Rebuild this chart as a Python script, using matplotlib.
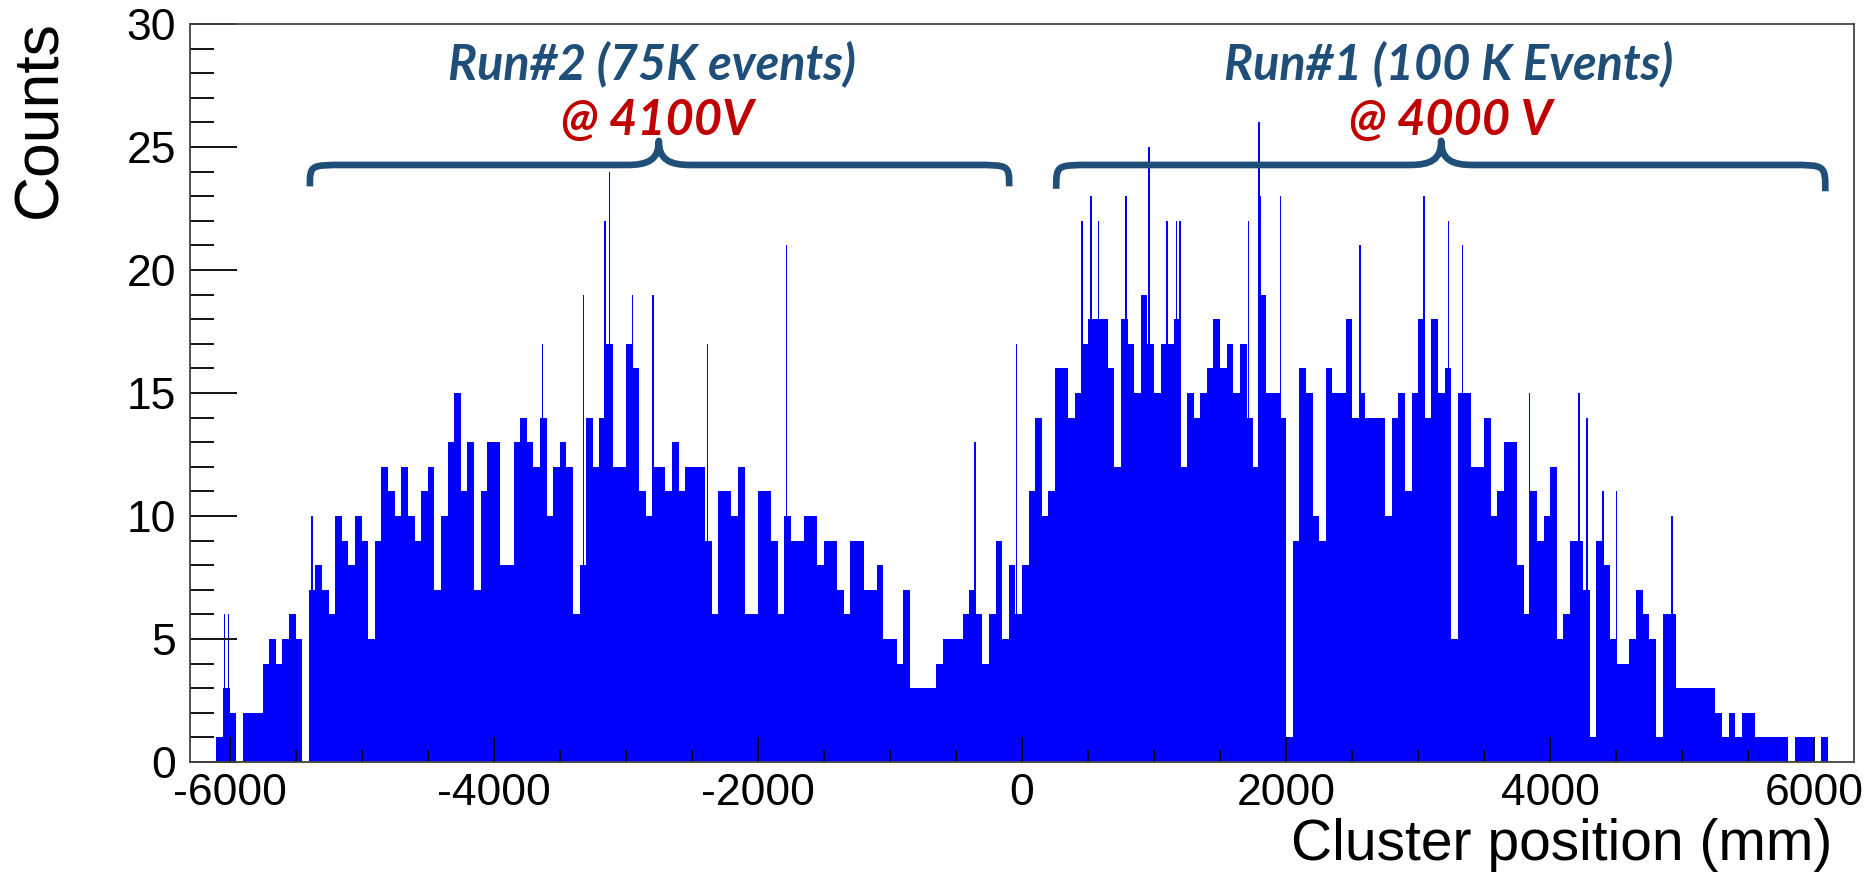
import numpy as np
import matplotlib
matplotlib.use("Agg")
import matplotlib.pyplot as plt
from matplotlib.path import Path
from matplotlib.patches import PathPatch

# ---------------- data ----------------
bin_width = 50
bin_start = -6300
counts = [
    0, 0, 0, 0,                                   # -6300 .. -6100
    1, 3, 2, 0, 2, 2, 2, 4, 5, 4,                 # -6100 .. -5650
    5, 6, 5, 0, 7, 8, 7, 6, 10, 9,                # -5600 .. -5150
    8, 10, 9, 5, 9, 12, 11, 10, 12, 10,           # -5100 .. -4650
    9, 11, 12, 7, 10, 13, 15, 11, 13, 7,          # -4600 .. -4150
    11, 13, 13, 8, 8, 13, 14, 13, 12, 14,         # -4100 .. -3650
    10, 12, 13, 12, 6, 8, 14, 12, 14, 17,         # -3600 .. -3150
    12, 12, 17, 16, 11, 10, 12, 12, 11, 13,       # -3100 .. -2650
    11, 12, 12, 12, 9, 6, 11, 11, 10, 12,         # -2600 .. -2150
    6, 6, 11, 11, 9, 6, 10, 9, 9, 10,             # -2100 .. -1650
    10, 8, 9, 9, 7, 6, 9, 9, 7, 7,                # -1600 .. -1150
    8, 5, 5, 4, 7, 3, 3, 3, 3, 4,                 # -1100 .. -650
    5, 5, 5, 6, 7, 6, 4, 6, 9, 5,                 # -600 .. -150
    8, 6,                                         # -100 .. -50
    8, 11, 14, 10, 11, 16, 16, 14, 15, 17,        # 0 .. 450
    18, 18, 18, 16, 12, 18, 17, 15, 19, 17,       # 500 .. 950
    15, 17, 17, 18, 12, 15, 14, 15, 16, 18,       # 1000 .. 1450
    16, 17, 15, 17, 14, 12, 19, 15, 15, 14,       # 1500 .. 1950
    1, 9, 16, 15, 10, 9, 16, 15, 15, 18,          # 2000 .. 2450
    14, 15, 14, 14, 14, 10, 14, 15, 11, 15,       # 2500 .. 2950
    18, 14, 18, 15, 16, 5, 15, 15, 12, 12,        # 3000 .. 3450
    14, 10, 11, 13, 13, 8, 6, 11, 9, 10,          # 3500 .. 3950
    12, 5, 6, 9, 9, 7, 1, 9, 8, 5,                # 4000 .. 4450
    4, 4, 5, 7, 6, 5, 1, 6, 6, 3,                 # 4500 .. 4950
    3, 3, 3, 3, 3, 2, 1, 2, 1, 2,                 # 5000 .. 5450
    2, 1, 1, 1, 1, 1, 0, 1, 1, 1,                 # 5500 .. 5950
    0, 1, 0, 0, 0, 0,                             # 6000 .. 6250
]
edges = [bin_start + i * bin_width for i in range(len(counts) + 1)]

# single-bin peaks that rise above the 50 mm envelope (position mm, counts)
peak_pos = [-6040, -6010, -5374, -3630, -3319, -3156, -3123, -2950, -2796,
            -2382, -1784, -358, -43, 453, 521, 580, 786, 962, 1100, 1170,
            1196, 1714, 1795, 1802, 1958, 2560, 3044, 3230, 3334, 3844,
            4216, 4277, 4400, 4503, 4921]
peak_cnt = [6, 6, 10, 17, 19, 22, 24, 19, 19,
            17, 21, 13, 17, 22, 23, 22, 23, 25, 22, 22,
            22, 22, 26, 23, 23, 21, 23, 22, 21, 15,
            15, 14, 11, 11, 10]
peak_width = 12

run_labels = ["Run#2 (75K events)", "Run#1 (100 K Events)"]
hv_labels = ["@ 4100V", "@ 4000 V"]

# ---------------- figure ----------------
W, H, DPI = 1876, 882, 100
fig = plt.figure(figsize=(W / DPI, H / DPI), dpi=DPI)
ax = fig.add_axes([190 / W, 1 - 762 / H, (1854 - 190) / W, (762 - 24) / H])

blue = "#0000ff"
ax.stairs(counts, edges, fill=True, color=blue, linewidth=0)
ax.bar(peak_pos, peak_cnt, width=peak_width, color=blue, linewidth=0)

ax.set_xlim(-6300, 6300)
ax.set_ylim(0, 30)

# ROOT-like ticks
xt = [-6000, -4000, -2000, 0, 2000, 4000, 6000]
yt = [0, 5, 10, 15, 20, 25, 30]
ax.set_xticks(xt)
ax.set_xticks(np.arange(-6000, 6001, 500), minor=True)
ax.set_yticks(yt)
ax.set_yticks(np.arange(0, 31, 1), minor=True)
tick_font = dict(family=["Liberation Sans", "DejaVu Sans"], size=32)
ax.set_xticklabels([f"{v:d}" for v in xt], **tick_font)
ax.set_yticklabels([str(v) for v in yt], **tick_font)
ax.tick_params(axis="y", which="major", direction="in", length=34, width=1.3, pad=10, right=False)
ax.tick_params(axis="y", which="minor", direction="in", length=17, width=1.3, right=False)
ax.tick_params(axis="x", which="major", direction="in", length=18, width=1.3, pad=8, top=False)
ax.tick_params(axis="x", which="minor", direction="in", length=9, width=1.3, top=False)
for s in ax.spines.values():
    s.set_color("#444444")
    s.set_linewidth(1.3)

# axis titles (ROOT style: at the ends)
fig.text(40 / W, 1 - 20 / H, "Counts", rotation=90, ha="center", va="top",
         family=["Liberation Sans", "DejaVu Sans"], size=45)
fig.text(1832 / W, 1 - 818 / H, "Cluster position (mm)", ha="right", va="top",
         family=["Liberation Sans", "DejaVu Sans"], size=41)

# ---------------- braces ----------------
brace_col = "#1f4e79"

def brace(x0, x1, xc, y_end0, y_end1, y_line, y_tip, rx=265, rt=240):
    verts = [
        (x0, y_end0),
        (x0, y_line), (x0, y_line), (x0 + rx, y_line),
        (xc - rt, y_line),
        (xc - rt * 0.35, y_line), (xc, y_line + 0.2), (xc, y_tip),
        (xc, y_line + 0.2), (xc + rt * 0.35, y_line), (xc + rt, y_line),
        (x1 - rx, y_line),
        (x1, y_line), (x1, y_line), (x1, y_end1),
    ]
    codes = [Path.MOVETO,
             Path.CURVE4, Path.CURVE4, Path.CURVE4,
             Path.LINETO,
             Path.CURVE4, Path.CURVE4, Path.CURVE4,
             Path.CURVE4, Path.CURVE4, Path.CURVE4,
             Path.LINETO,
             Path.CURVE4, Path.CURVE4, Path.CURVE4]
    ax.add_patch(PathPatch(Path(verts, codes), facecolor="none",
                           edgecolor=brace_col, linewidth=4.8,
                           capstyle="butt", joinstyle="round", clip_on=False))

brace(-5392, -97, -2750, 23.4, 23.4, 24.27, 25.25)
brace(259, 6083, 3174, 23.3, 23.2, 24.27, 25.25)

txt_font = dict(family=["Lato", "DejaVu Sans"], size=35, weight="bold", style="italic")
ax.text(-2800, 27.75, run_labels[0], color=brace_col, ha="center", va="baseline", **txt_font)
ax.text(-2760, 25.5, hv_labels[0], color="#c00000", ha="center", va="baseline", **txt_font)
ax.text(3232, 27.75, run_labels[1], color=brace_col, ha="center", va="baseline", **txt_font)
ax.text(3246, 25.5, hv_labels[1], color="#c00000", ha="center", va="baseline", **txt_font)

fig.savefig("out.png", dpi=DPI)
